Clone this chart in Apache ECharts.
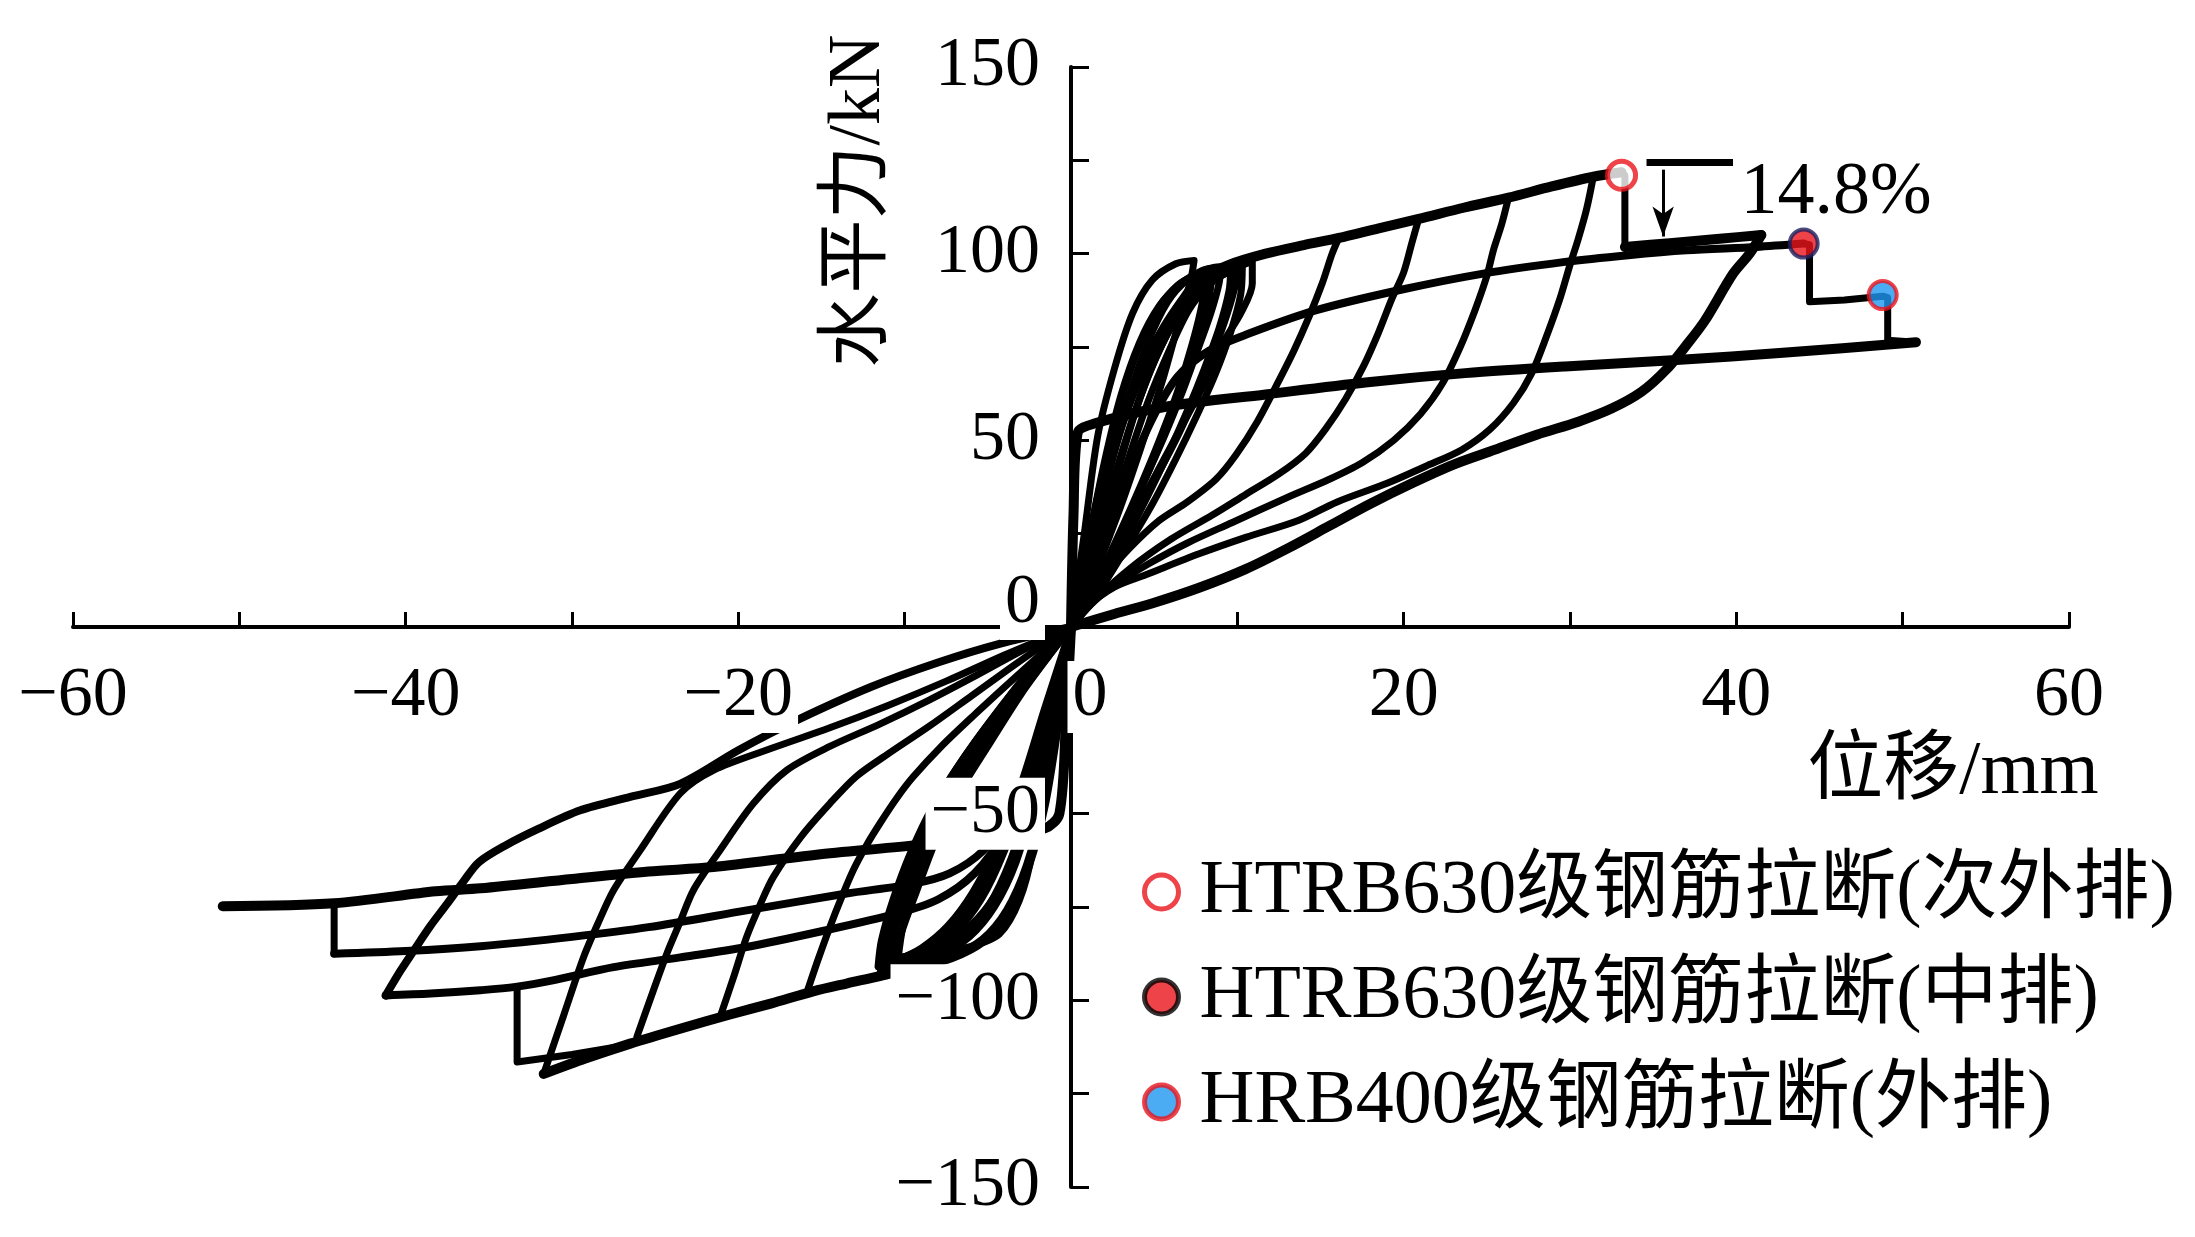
<!DOCTYPE html>
<html>
<head>
<meta charset="utf-8">
<script src="https://cdn.jsdelivr.net/npm/echarts@6/dist/echarts.min.js"></script>
<style>
html,body{margin:0;padding:0;background:#fff;}
#chart{width:2195px;height:1237px;}
</style>
</head>
<body>
<div id="chart"></div>
<script>
// ---------- tick labels ----------
const xTickLabels = [-60, -40, -20, 0, 20, 40, 60];
const yTickLabels = [-150, -100, -50, 0, 50, 100, 150];
const xAxisName = '位移/mm';
const yAxisName = '水平力/kN';
const legendNames = ['HTRB630级钢筋拉断(次外排)', 'HTRB630级钢筋拉断(中排)', 'HRB400级钢筋拉断(外排)'];
const dropLabel = '14.8%';

// ---------- positive side (x: mm, F: kN) ----------
const posLoop1 = [[0,0],[0.8,25],[1.6,51],[2.6,69],[3.7,84],[4.9,93],[6.3,97.3],[7.4,98.2],[7.2,93],[6.5,82],[5.5,66],[4.2,48],[2.8,30],[1.4,14],[0,0]];
const posLoop2 = [[0,0],[1.2,22],[2.4,44],[3.5,62],[4.6,76],[5.8,87],[7,93],[8.3,96],[9,96.5],[8.9,92],[8.4,84],[7.6,74],[6.7,63],[5.6,51],[4.4,39],[3,25],[1.5,12],[0,0]];
const posLoop3 = [[0,0],[1.5,22],[2.9,44],[4.1,61],[5.3,75],[6.5,86],[7.8,92.5],[9,95.5],[10,97],[9.9,92],[9.4,84],[8.6,74],[7.6,63],[6.4,51],[5,39],[3.4,26],[1.7,12.5],[0,0]];
const posLoop4 = [[0,0],[1.8,22],[3.3,43],[4.6,60],[5.9,74],[7.1,85],[8.4,92],[9.6,95.5],[10.9,98],[10.9,92],[10.2,84],[9.1,75.9],[8,65],[6.8,55],[5.6,45],[4.4,35],[3.1,24],[1.6,12],[0,0]];
const posLoop5 = [[0,0],[1.3,20],[2.6,40],[3.8,57],[5,71],[6.2,82],[7.5,90],[8.7,94],[9.6,96],[9.5,90],[8.9,80],[8,69],[7,58],[5.9,47],[4.6,35],[3.2,23],[1.6,11],[0,0]];
const posLoop6 = [[0,0],[1.0,22],[2.0,44],[3.0,62],[4.1,76],[5.3,86],[6.6,92],[7.9,95.5],[8.5,96],[8.3,88],[7.7,78],[6.9,67],[5.9,55],[4.8,43],[3.5,30],[2,16],[0,0]];
const posLoop7 = [[0,0],[1.4,20],[2.7,40],[3.9,58],[5.1,72],[6.4,83],[7.7,90],[9,94],[10.3,96.5],[10.2,89],[9.6,79],[8.7,68],[7.6,57],[6.3,45],[4.9,33],[3.3,21],[1.6,9],[0,0]];
const posLoop8 = [[0,0],[0.9,20],[1.9,41],[2.9,59],[4,74],[5.2,85],[6.4,91.5],[7.6,94.5],[8.1,95],[7.9,87],[7.3,76],[6.4,63],[5.4,51],[4.2,38],[2.9,25],[1.4,11],[0,0]];
const posEnvelope = [[0,0],[0.9,16],[1.9,36],[3,54],[4.3,69],[5.6,80],[6.8,88],[7.7,93],[9.5,97],[11.7,100],[14,102.3],[16.1,104.2],[18.5,106.8],[20.9,109.3],[23.6,112.3],[26.3,115],[28.9,118],[31.4,120.6],[33.1,121.8]];
const posUnload16 = [[16.1,104.2],[15.7,100],[15.1,92],[14.3,83],[13.4,74],[12.5,66],[11.2,55],[9.9,46],[8.7,39.5],[7,33.5],[5.3,28.5],[3.5,21],[1.8,12.5],[0.6,5],[0,0]];
const posUnload21 = [[20.9,109.3],[20.5,103],[20,95],[19.3,88],[18.5,79],[17.6,70],[16.5,61],[15.3,53],[14.1,46.5],[12.5,41],[10.5,35.5],[8.5,30],[6,23.5],[3.5,15.5],[1.5,7.5],[0,0]];
const posUnload26 = [[26.3,115],[25.9,108],[25.4,101],[25,94],[24.3,85],[23.4,75],[22.3,65],[21,57],[19.4,50],[17.5,44],[15.5,39.5],[12.9,34.5],[9.7,28],[7,22.5],[4.7,17],[2.5,11],[1.2,6],[0,0]];
const posUnload31 = [[31.4,120.6],[31,112],[30.5,104],[30,97],[29.4,88],[28.6,78],[27.7,68],[26.6,60],[25.2,53],[23.5,47.5],[21.3,43],[19,38.5],[16,33.5],[13.7,28.6],[10.5,24],[7.7,19.6],[4.5,14],[2.6,10.7],[1,5.5],[0,0]];
const posDrop1 = [[33.1,121.8],[33.3,121],[33.3,101.8]];
const posAfterDrop = [[33.3,101.8],[36,102.8],[39,104],[41.5,105]];
const posUnload41 = [[41.5,105],[40.8,100],[39.8,94.6],[38.1,82],[37,75.5],[35.8,69],[34.3,63],[32.5,58.5],[30.5,55],[28,51.5],[25.5,47.5],[23,43.5],[20.5,38.5],[18,33],[15.5,27],[13,21],[10.5,15.5],[7.7,10.5],[5,6.5],[2.6,3.5],[0,0]];
const posReload = [[0,0],[1.6,18],[3.2,38],[4.8,55],[6.4,67],[8.3,74],[10.7,78.6],[14.7,84.8],[19.7,90.2],[24.7,94.6],[29.7,97.8],[33.5,99.6],[37,100.9],[41.2,101.8],[44.05,102.7]];
const posDrop23 = [[44.05,102.7],[44.4,102.4],[44.4,87.1],[46.5,87.6],[48.8,88.6],[49.1,88.2],[49.1,76.8],[50.8,76.3]];
const posFinal = [[0,0],[0.15,30],[0.4,52],[1.4,54.5],[5.7,59],[11.7,62.3],[17.7,65.5],[23.7,68],[29.7,69.8],[36.4,71.5],[43,73.5],[50.8,76.3]];

// ---------- negative side ----------
const negLoop1 = [[0,0],[-0.8,-18],[-1.5,-33],[-2.3,-59.8],[-3.1,-73.2],[-4.3,-82.2],[-6.1,-85.7],[-8.5,-87.5],[-10.5,-88.5],[-10.2,-82],[-9.3,-71],[-8.2,-58],[-6.8,-45],[-5,-32],[-3,-18],[-1.2,-7],[0,0]];
const negLoop2 = [[0,0],[-1.2,-22],[-2.4,-45],[-3.6,-62],[-5,-75],[-6.6,-83],[-8.4,-88],[-10.2,-90.5],[-11.2,-91.5],[-10.9,-84],[-10.2,-74],[-9.1,-63],[-7.8,-51],[-6.2,-39],[-4.5,-27],[-2.4,-14],[0,0]];
const negLoop3 = [[0,0],[-1.6,-22],[-3,-42],[-4.4,-58],[-5.9,-71],[-7.4,-80],[-9,-86],[-10.6,-89.5],[-11.6,-91],[-11.4,-84],[-10.7,-73],[-9.6,-60],[-8.3,-48],[-6.6,-36],[-4.6,-24],[-2.3,-11],[0,0]];
const negLoop4 = [[0,0],[-1.0,-20],[-2.0,-40],[-3.0,-56],[-4.2,-69],[-5.6,-78],[-7.3,-84],[-9.2,-87.5],[-10.4,-89],[-10.1,-80],[-9.4,-68],[-8.4,-55],[-7.1,-42],[-5.5,-30],[-3.6,-18],[-1.7,-8],[0,0]];
const negLoop5 = [[0,0],[-1.4,-22],[-2.7,-43],[-4,-60],[-5.4,-73],[-7,-82],[-8.7,-87],[-10.4,-90],[-11.4,-91.2],[-11.1,-83],[-10.4,-71],[-9.3,-58],[-8,-46],[-6.3,-34],[-4.3,-22],[-2.1,-10],[0,0]];
const negLoop6 = [[0,0],[-1.1,-24],[-2.2,-46],[-3.3,-63],[-4.6,-75],[-6.1,-83],[-7.8,-87.5],[-9.6,-89.5],[-10.8,-90.2],[-10.6,-82],[-9.9,-71],[-8.8,-58],[-7.4,-46],[-5.8,-34],[-3.9,-22],[-1.9,-10],[0,0]];
const negLoop7 = [[0,0],[-1.3,-20],[-2.6,-40],[-3.9,-56],[-5.3,-69],[-6.8,-79],[-8.5,-85.5],[-10.1,-88.5],[-11,-89.5],[-10.8,-80],[-10,-68],[-8.9,-55],[-7.5,-43],[-5.8,-31],[-3.8,-19],[-1.8,-8],[0,0]];
const negEnvelope = [[0,0],[-0.8,-25],[-1.6,-47],[-2.6,-64],[-3.8,-76],[-5.3,-84],[-7.2,-88.5],[-9.3,-91],[-11.5,-93.5],[-13.5,-95.5],[-15.5,-97.6],[-18,-100.8],[-20.5,-103.8],[-23.5,-107.6],[-26.5,-111.6],[-29.2,-115.6],[-31.7,-119.7]];
const negDrop1 = [[-26.7,-112],[-30,-114.5],[-33.3,-116.5],[-33.3,-96.4]];
const negUnload11 = [[-11.5,-93.5],[-11.2,-86],[-10.5,-76],[-9.5,-64],[-8.3,-52],[-7,-42],[-5.2,-30],[-3.2,-18],[-1.3,-7],[0,0]];
const negUnload16 = [[-15.9,-98.2],[-15.2,-89],[-14.5,-80.4],[-13.8,-72.5],[-13.1,-65.2],[-12.3,-58.5],[-11.5,-52.7],[-10.5,-46],[-9.5,-40.2],[-7.8,-32],[-5.8,-23.5],[-3.6,-14.5],[-1.5,-6],[0,0]];
const negUnload21 = [[-21.1,-104.5],[-20.3,-94],[-19.5,-83],[-18.7,-74.5],[-17.9,-67],[-16.2,-56],[-14.5,-47.3],[-12.9,-40],[-11,-34],[-8.5,-26.5],[-6,-18.5],[-3.5,-10.5],[-1.4,-4],[0,0]];
const negUnload26 = [[-26.1,-109.8],[-25.2,-98.5],[-24.3,-87.5],[-23.5,-79],[-22.7,-70.5],[-21.1,-59.8],[-19.1,-47.3],[-17.1,-38.4],[-14.5,-32],[-11.5,-26],[-8.5,-19.5],[-5.5,-12.5],[-2.8,-6],[0,0]];
const negUnload32 = [[-31.7,-119.7],[-30.5,-104],[-29.3,-88.4],[-28.4,-79],[-27.5,-70.5],[-25.9,-59.8],[-23.5,-44.6],[-21.5,-38.4],[-18,-32.5],[-14.5,-27],[-11,-21],[-7.5,-14.5],[-4,-7.5],[-1.5,-2.8],[0,0]];
const negUnload41 = [[-41.2,-98.7],[-40.3,-92],[-39.5,-86.6],[-38.5,-80],[-37.5,-74.1],[-36.5,-68],[-35.6,-63],[-34,-58.5],[-32,-54],[-29.5,-49.1],[-26.5,-45.5],[-23.5,-42],[-20,-33],[-16.5,-25],[-12,-16],[-8,-9.5],[-4.3,-4.5],[0,0]];
const negLoadBot = [[0,0],[-1.2,-20],[-2.6,-40],[-4,-55],[-5.8,-66],[-8,-73],[-10.5,-76.8],[-15,-81.5],[-19.5,-85.7],[-23.5,-88.5],[-27.5,-91.1],[-31,-94.5],[-33.4,-96.4],[-35.5,-97.3],[-38.5,-98.2],[-41.2,-98.7]];
const negLoadMid = [[0,0],[-1,-18],[-2.2,-36],[-3.6,-50],[-5.3,-60],[-7.3,-66],[-9.5,-68.8],[-13.5,-71.4],[-19.5,-75.9],[-25.4,-80.4],[-30,-83],[-35.5,-85.5],[-40,-86.8],[-44.3,-87.5]];
const negDrop2 = [[-44.3,-87.5],[-44.3,-74]];
const negFinal = [[0,0],[-0.3,-25],[-0.7,-50],[-1.6,-54],[-5,-56],[-9.5,-58.5],[-15.3,-61],[-21.5,-64.3],[-25.4,-65.5],[-30,-67.5],[-35.5,-70],[-38.2,-70.8],[-44.3,-74],[-51,-74.8]];

// ---------- fracture markers & annotation ----------
const markRedOpen = [[33.1, 121]];
const markNavyRed = [[44.05, 102.7]];
const markBlueRed = [[48.8, 88.9]];
const annoBar = [[34.6, 124.4], [39.8, 124.4]];
const annoArrow = [[35.6, 122.5], [35.6, 104.6]];
const dropLabelPos = [46.0, 116.2];

// ---------- styling / layout ----------
const FONT = '"Liberation Serif", "Noto Sans CJK SC", serif';
const RED = '#e8141c', NAVY = '#1b1f5e', BLUE = '#1e96f0';
const fmt = v => (v < 0 ? '\u2212' + Math.abs(v) : String(v));
const W = 2195, H = 1237;
const GRID = { left: 73, right: 126, top: 67, bottom: 50 };
const X_MIN = -60, X_MAX = 60, Y_MIN = -150, Y_MAX = 150;
const plotW = W - GRID.left - GRID.right, plotH = H - GRID.top - GRID.bottom;
// shift axes so they cross at the origin (axis lines + ticks + labels)
const yAxisOffset = -plotW * (0 - X_MIN) / (X_MAX - X_MIN);
const xAxisOffset = -plotH * (0 - Y_MIN) / (Y_MAX - Y_MIN);

function curve(data, w, smooth) {
  return {
    type: 'line', data: data, symbol: 'none', silent: true, clip: false,
    smooth: smooth === undefined ? 0.3 : smooth,
    lineStyle: { color: '#000', width: w, cap: 'round', join: 'round' },
    itemStyle: { color: '#000' }, z: 2
  };
}
const T = 7, K = 10;
const series = [
  curve(posLoop1, T), curve(posLoop2, T), curve(posLoop3, T), curve(posLoop4, T), curve(posLoop5, T),
  curve(posLoop6, T), curve(posLoop7, T), curve(posLoop8, T),
  curve(posEnvelope, K), curve(posUnload16, T), curve(posUnload21, T), curve(posUnload26, T), curve(posUnload31, T),
  curve(posDrop1, T, false), curve(posAfterDrop, K), curve(posUnload41, K),
  curve(posReload, T + 1), curve(posDrop23, T, false), curve(posFinal, K),
  curve(negLoop1, T), curve(negLoop2, T), curve(negLoop3, T), curve(negLoop4, T),
  curve(negLoop5, T), curve(negLoop6, T), curve(negLoop7, T),
  curve(negEnvelope, K), curve(negDrop1, T, false),
  curve(negUnload11, T), curve(negUnload16, T), curve(negUnload21, T), curve(negUnload26, T), curve(negUnload32, T), curve(negUnload41, T + 1),
  curve(negLoadBot, T + 1), curve(negLoadMid, T + 1), curve(negDrop2, T, false), curve(negFinal, K),
  {
    type: 'scatter', name: legendNames[0], data: markRedOpen, symbol: 'circle', symbolSize: 28, z: 5,
    itemStyle: { color: '#fff', borderColor: RED, borderWidth: 5 },
    markLine: {
      silent: true, animation: false, symbol: ['none', 'none'], label: { show: false },
      data: [
        [{ coord: annoBar[0], lineStyle: { color: '#000', width: 7, type: 'solid' } }, { coord: annoBar[1] }],
        [{ coord: annoArrow[0], symbol: 'none', lineStyle: { color: '#000', width: 3, type: 'solid' } }, { coord: annoArrow[1], symbol: 'arrow', symbolSize: [16, 30] }]
      ],
      lineStyle: { color: '#000', type: 'solid' }
    },
    markPoint: {
      silent: true, animation: false, symbol: 'circle', symbolSize: 1,
      itemStyle: { color: 'rgba(0,0,0,0)' },
      label: { show: true, position: 'inside', formatter: dropLabel, color: '#000', fontSize: 74, fontFamily: FONT },
      data: [{ coord: dropLabelPos }]
    }
  },
  {
    type: 'scatter', name: legendNames[1], data: markNavyRed, symbol: 'circle', symbolSize: 28, z: 5,
    itemStyle: { color: RED, borderColor: NAVY, borderWidth: 4 }
  },
  {
    type: 'scatter', name: legendNames[2], data: markBlueRed, symbol: 'circle', symbolSize: 28, z: 5,
    itemStyle: { color: BLUE, borderColor: RED, borderWidth: 4 }
  }
];

const baseRich = {
  b: { fontSize: 70, lineHeight: 72, fontFamily: FONT, color: '#000', backgroundColor: '#fff', padding: [1, 5, 1, 5] },
  z: { fontSize: 70, lineHeight: 72, fontFamily: FONT, color: '#000', backgroundColor: '#fff', padding: [1, 5, 1, 5] }
};

const option = {
  animation: false,
  backgroundColor: '#fff',
  grid: { left: GRID.left, right: GRID.right, top: GRID.top, bottom: GRID.bottom, containLabel: false, outerBoundsMode: 'none' },
  xAxis: {
    type: 'value', min: X_MIN, max: X_MAX, interval: 10, z: 10, position: 'bottom', offset: xAxisOffset,
    axisLine: { show: true, onZero: false, lineStyle: { color: '#000', width: 4 } },
    axisTick: { show: true, inside: true, length: 15, lineStyle: { color: '#000', width: 3 } },
    splitLine: { show: false },
    axisLabel: {
      show: true, margin: 34, showMinLabel: true, showMaxLabel: true,
      formatter: v => xTickLabels.includes(v) ? (v === 0 ? '{s| }{z|0}' : '{b|' + fmt(v) + '}') : '',
      rich: Object.assign({ s: { fontSize: 70, lineHeight: 72, width: 38 } }, baseRich)
    }
  },
  yAxis: {
    type: 'value', min: Y_MIN, max: Y_MAX, interval: 25, z: 10, position: 'left', offset: yAxisOffset,
    axisLine: { show: true, onZero: false, lineStyle: { color: '#000', width: 4 } },
    axisTick: { show: true, inside: true, length: 18, lineStyle: { color: '#000', width: 3 } },
    splitLine: { show: false },
    axisLabel: {
      show: true, margin: 26, showMinLabel: true, showMaxLabel: true,
      formatter: v => yTickLabels.includes(v) ? (v === 0 ? '{z|0}\n{s| }' : '{b|' + fmt(v) + '}') : '',
      rich: Object.assign({ s: { fontSize: 10, lineHeight: 46, height: 46 } }, baseRich)
    }
  },
  legend: {
    orient: 'vertical', left: 1137, top: 847, itemWidth: 34, itemHeight: 34, itemGap: 25,
    selectedMode: false,
    textStyle: { fontSize: 76, fontFamily: FONT, color: '#000', lineHeight: 80, padding: [0, 0, 0, 16] },
    data: [
      { name: legendNames[0], icon: 'circle', itemStyle: { color: '#fff', borderColor: RED, borderWidth: 5 } },
      { name: legendNames[1], icon: 'circle', itemStyle: { color: RED, borderColor: '#000', borderWidth: 5 } },
      { name: legendNames[2], icon: 'circle', itemStyle: { color: BLUE, borderColor: RED, borderWidth: 5 } }
    ]
  },
  graphic: [
    { type: 'text', x: 860, y: 201, rotation: Math.PI / 2, z: 20,
      style: { text: yAxisName, fontSize: 74, fontFamily: FONT, fill: '#000', align: 'center', verticalAlign: 'middle' } },
    { type: 'text', x: 1953, y: 773, z: 20,
      style: { text: xAxisName, fontSize: 76, fontFamily: FONT, fill: '#000', align: 'center', verticalAlign: 'middle' } }
  ],
  series: series
};

const chart = echarts.init(document.getElementById('chart'), null, { renderer: 'canvas' });
chart.setOption(option);
</script>
</body>
</html>
